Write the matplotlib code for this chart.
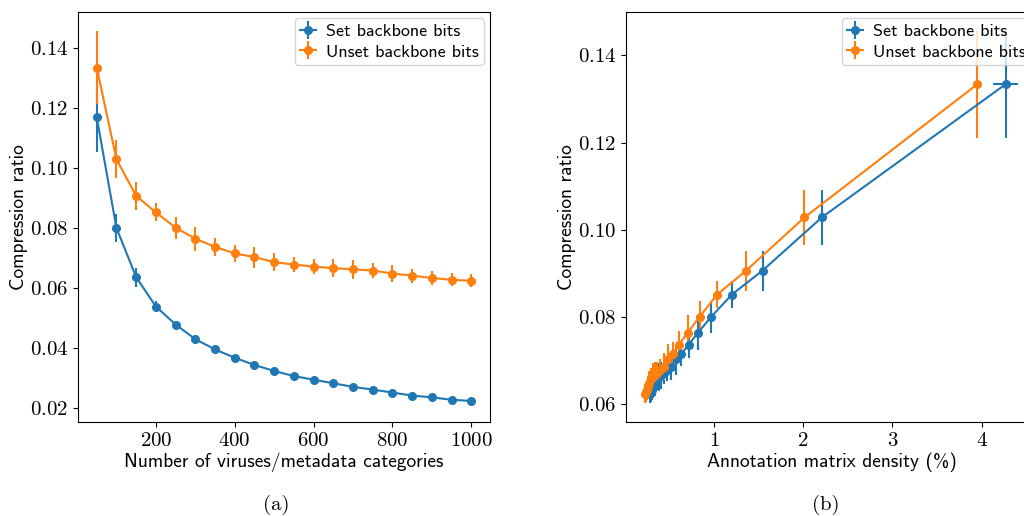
import numpy as np
import matplotlib
matplotlib.use("Agg")
import matplotlib.pyplot as plt

# ============================================================
# Data
# ============================================================
n_categories = [50, 100, 150, 200, 250, 300, 350, 400, 450, 500,
                550, 600, 650, 700, 750, 800, 850, 900, 950, 1000]

set_ratio = [0.1168, 0.0799, 0.0635, 0.0537, 0.0477, 0.0428, 0.0394, 0.0366, 0.0342, 0.0322,
             0.0305, 0.0293, 0.0281, 0.0269, 0.0260, 0.0250, 0.0240, 0.0234, 0.0226, 0.0222]
set_ratio_err = [0.0115, 0.0047, 0.0032, 0.0018, 0.0012, 0.0013, 0.0011, 0.0010, 0.0014, 0.0010,
                 0.0009, 0.0009, 0.0009, 0.0009, 0.0008, 0.0008, 0.0008, 0.0008, 0.0008, 0.0008]

unset_ratio = [0.1334, 0.1028, 0.0906, 0.0851, 0.0800, 0.0763, 0.0736, 0.0714, 0.0702, 0.0685,
               0.0677, 0.0670, 0.0665, 0.0661, 0.0657, 0.0647, 0.0640, 0.0632, 0.0626, 0.0623]
unset_ratio_err = [0.0123, 0.0064, 0.0046, 0.0030, 0.0037, 0.0040, 0.0031, 0.0028, 0.0035, 0.0031,
                   0.0025, 0.0025, 0.0030, 0.0032, 0.0026, 0.0028, 0.0023, 0.0023, 0.0022, 0.0022]

# annotation matrix density (%) for each category count
set_density = [4.270, 2.209, 1.545, 1.202, 0.970, 0.821, 0.716, 0.634, 0.571, 0.518,
               0.475, 0.438, 0.408, 0.381, 0.359, 0.339, 0.320, 0.304, 0.292, 0.282]
set_density_err = [0.142, 0.020, 0.015, 0.012, 0.010, 0.008, 0.007, 0.006, 0.006, 0.005,
                   0.005, 0.004, 0.004, 0.004, 0.004, 0.003, 0.003, 0.003, 0.003, 0.003]
unset_density = [3.953, 2.015, 1.362, 1.037, 0.840, 0.705, 0.608, 0.537, 0.481, 0.436,
                 0.398, 0.367, 0.340, 0.316, 0.296, 0.278, 0.262, 0.248, 0.236, 0.226]
unset_density_err = [0.020, 0.010, 0.008, 0.006, 0.005, 0.004, 0.004, 0.003, 0.003, 0.003,
                     0.003, 0.002, 0.002, 0.002, 0.002, 0.002, 0.002, 0.002, 0.002, 0.002]

# ============================================================
# Style
# ============================================================
plt.rcParams["axes.formatter.use_mathtext"] = True
TICK_FONT = "cmr10"
LABEL_FONT = "cmss10"

fig = plt.figure(figsize=(10.24, 5.16), dpi=100)
ax_a = fig.add_axes([78 / 1024, 94 / 516, 412 / 1024, 410 / 516])
ax_b = fig.add_axes([626 / 1024, 94 / 516, 411 / 1024, 410 / 516])

MS = 5.5

# (a) compression ratio vs number of categories
ax_a.errorbar(n_categories, set_ratio, yerr=set_ratio_err, fmt="-o", ms=MS,
              color="C0", label="Set backbone bits")
ax_a.errorbar(n_categories, unset_ratio, yerr=unset_ratio_err, fmt="-o", ms=MS,
              color="C1", label="Unset backbone bits")
ax_a.set_xticks([200, 400, 600, 800, 1000])
ax_a.set_yticks([0.02, 0.04, 0.06, 0.08, 0.10, 0.12, 0.14])
ax_a.set_xlabel("Number of viruses/metadata categories", family=LABEL_FONT, fontsize=14)

# (b) compression ratio vs annotation density
ax_b.errorbar(set_density, unset_ratio, xerr=set_density_err, yerr=unset_ratio_err,
              fmt="-o", ms=MS, color="C0", label="Set backbone bits")
ax_b.errorbar(unset_density, unset_ratio, xerr=unset_density_err, yerr=unset_ratio_err,
              fmt="-o", ms=MS, color="C1", label="Unset backbone bits")
ax_b.set_xticks([1, 2, 3, 4])
ax_b.set_yticks([0.06, 0.08, 0.10, 0.12, 0.14])
ax_b.set_xlabel("Annotation matrix density (%)", family=LABEL_FONT, fontsize=14)

for ax in (ax_a, ax_b):
    ax.set_ylabel("Compression ratio", family=LABEL_FONT, fontsize=14, labelpad=1)
    ax.xaxis.labelpad = 2
    for lbl in ax.get_xticklabels() + ax.get_yticklabels():
        lbl.set_family(TICK_FONT)
        lbl.set_fontsize(15)
    ax.legend(loc="upper right", prop={"family": LABEL_FONT, "size": 13},
              handlelength=0.9, handletextpad=0.5, borderaxespad=0.35,
              labelspacing=0.25, borderpad=0.3)

fig.text(276 / 1024, 11 / 516, "(a)", family=TICK_FONT, fontsize=15, ha="center", va="center")
fig.text(826 / 1024, 11 / 516, "(b)", family=TICK_FONT, fontsize=15, ha="center", va="center")

fig.savefig("out.png", dpi=100)
